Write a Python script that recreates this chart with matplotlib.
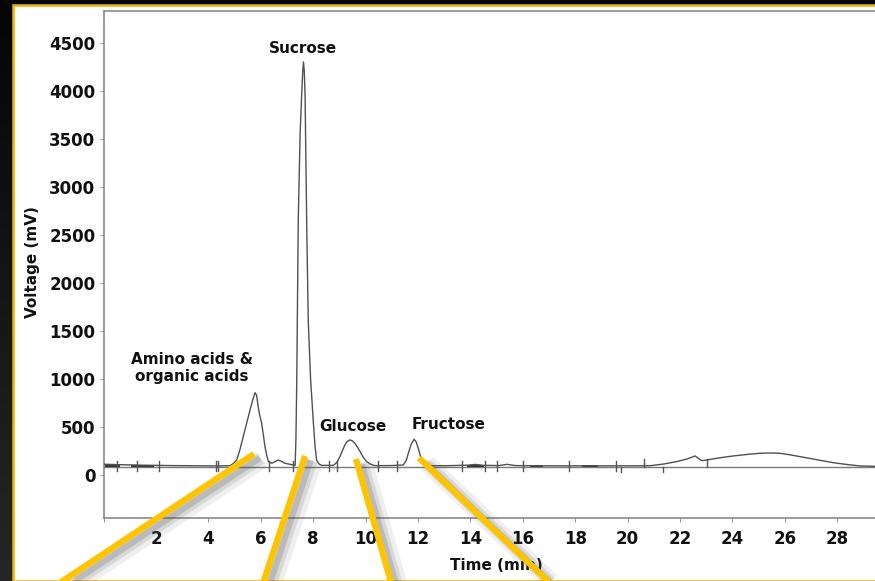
import numpy as np
import matplotlib
matplotlib.use("Agg")
import matplotlib.pyplot as plt
from matplotlib.patches import Rectangle
from matplotlib.colors import LinearSegmentedColormap
import matplotlib.patheffects as pe

# ---------------- data ----------------
time_min = [0.0, 0.5, 1.5, 2.5, 3.5, 4.3, 4.82, 4.95, 5.08, 5.2, 5.33, 5.46, 5.59, 5.70, 5.78,
            5.84, 5.90, 5.96, 6.03, 6.10, 6.16, 6.23,
            6.29, 6.42, 6.55, 6.67, 6.80, 6.92, 7.24, 7.31, 7.34, 7.37, 7.43, 7.50, 7.56, 7.60,
            7.63, 7.66, 7.69, 7.75, 7.81, 7.90, 8.00, 8.07, 8.13, 8.22, 8.32, 8.77, 8.90, 9.02,
            9.11, 9.21, 9.30, 9.40, 9.50, 9.59, 9.69, 9.79, 9.91, 10.04,
            10.2, 10.36, 11.0, 11.44, 11.55, 11.63, 11.74, 11.85, 11.93, 12.01, 12.08, 12.14,
            12.22, 12.33, 13.0, 13.9, 14.2, 14.5,
            15.1, 15.4, 15.7, 16.5, 18.0, 19.5, 20.85, 21.4, 21.87, 22.25, 22.58, 22.83,
            23.02, 23.5, 24.03, 24.6, 25.05, 25.45, 25.81, 26.2, 26.58, 27.2, 27.85, 28.4,
            28.87, 29.5, 30.0]
voltage_mv = [112, 108, 102, 98, 96, 94, 96, 118, 156, 260, 399, 540, 677, 790, 857,
              830, 711, 620, 542, 410, 295, 200,
              139, 122, 140, 156, 140, 122, 104, 100, 365, 920, 2656, 3550, 3958, 4200,
              4302, 4200, 3958, 2656, 1615, 1000, 573, 300, 156, 115, 100, 100, 130, 191,
              250, 313, 350, 365, 355, 330, 290, 243, 185, 139,
              110, 97, 98, 104, 150, 226, 320, 372, 345, 278, 210, 156,
              115, 97, 96, 102, 110, 100,
              98, 111, 98, 96, 95, 95, 96, 115, 139, 165, 198, 149,
              156, 178, 198, 215, 226, 229, 226, 210, 191, 160, 128, 108,
              94, 90, 90]

baseline_level = 86
peak_marks_up_down = [0.51, 1.26, 2.11, 4.29, 4.37, 6.32, 7.22, 8.60, 8.90, 10.48,
                      11.21, 13.69, 14.56, 15.03, 16.0, 17.78, 19.56]
peak_marks_up = [20.64, 23.02]
peak_marks_down = [19.75, 21.36]
integration_segments = [(0.1, 0.6), (1.1, 1.9), (13.9, 14.5), (16.3, 16.75), (18.3, 18.85)]

labels = ["Sucrose", "Amino acids &\norganic acids", "Glucose", "Fructose"]
label_time = [7.61, 3.37, 9.52, 13.15]
label_volt = [4438, 1115, 510, 521]

pointer_start_t = [5.74, 7.69, 9.63, 12.04]
pointer_start_v = [219, 198, 167, 177]
pointer_end_t = [-1.85, 6.05, 11.01, 17.15]
pointer_end_v = [-1156, -1156, -1156, -1156]

x_ticks = list(range(0, 30, 2))
x_ticklabels = [""] + [str(t) for t in range(2, 30, 2)]
y_ticks = list(range(0, 5000, 500))

# ---------------- figure ----------------
W, H = 875, 581
fig = plt.figure(figsize=(W / 100, H / 100), dpi=100)
fig.patch.set_facecolor("#141414")

bg = fig.add_axes([0, 0, 1, 1], zorder=-10)
grad = np.linspace(0, 1, 256).reshape(-1, 1)
cm = LinearSegmentedColormap.from_list("bgc", ["#050505", "#262626"])
bg.imshow(grad, aspect="auto", cmap=cm, extent=[0, 1, 1, 0])
bg.axis("off")

panel = Rectangle((13 / W, 0.5 / H), 1.2, (580.0 - 4.5) / H,
                  transform=fig.transFigure, facecolor="white",
                  edgecolor="#F2B000", linewidth=1.8, zorder=-5)
fig.patches.append(panel)

AXW = 30 * 26.2
AXH = 517.5 - 11
ax = fig.add_axes([103.6 / W, 63.5 / H, AXW / W, AXH / H])
ax.set_facecolor("white")
ax.set_xlim(0, 30)
ax.set_ylim(-443, 4833)

for side in ["left", "bottom", "top"]:
    ax.spines[side].set_color("#808080")
    ax.spines[side].set_linewidth(1.1)
ax.spines["right"].set_visible(False)

ax.set_xticks(x_ticks)
ax.set_xticklabels(x_ticklabels)
ax.set_yticks(y_ticks)
ax.tick_params(axis="both", direction="out", length=3, color="#999999", width=0.8,
               labelsize=12, labelcolor="#111111")
ax.tick_params(axis="x", pad=6)
ax.tick_params(axis="y", pad=3)
for lab in ax.get_xticklabels() + ax.get_yticklabels():
    lab.set_fontweight("bold")

ax.axhline(baseline_level, color="#7a7a7a", lw=1.0, zorder=2)
for a, b in integration_segments:
    ax.plot([a, b], [baseline_level + 8, baseline_level + 8], color="#333333", lw=1.4, zorder=3)

for t in peak_marks_up_down:
    ax.plot([t, t], [baseline_level - 40, baseline_level + 55], color="#555555", lw=1.0, zorder=3)
for t in peak_marks_up:
    ax.plot([t, t], [baseline_level, baseline_level + 85], color="#555555", lw=1.0, zorder=3)
for t in peak_marks_down:
    ax.plot([t, t], [baseline_level - 60, baseline_level], color="#555555", lw=1.0, zorder=3)

ax.plot(time_min, voltage_mv, color="#505050", lw=1.0, zorder=4)

for txt, t, v in zip(labels, label_time, label_volt):
    ax.text(t, v, txt, ha="center", va="center", fontsize=11, fontweight="bold",
            color="#111111", linespacing=1.15, zorder=5)

ax.set_ylabel("Voltage (mV)", fontsize=11, fontweight="bold", color="#111111")
ax.yaxis.set_label_coords(-(103.6 - 40) / AXW, (517.5 - 262) / AXH)
ax.set_xlabel("Time (min)", fontsize=11, fontweight="bold", color="#111111")
ax.xaxis.set_label_coords((496 - 103.6) / AXW, -(558 - 517.5) / AXH)

shadow = [pe.SimpleLineShadow(offset=(6, -4), shadow_color="#666666", alpha=0.10, linewidth=13),
          pe.SimpleLineShadow(offset=(5, -3.5), shadow_color="#555555", alpha=0.15, linewidth=8),
          pe.SimpleLineShadow(offset=(4, -3), shadow_color="#444444", alpha=0.2, linewidth=4.5),
          pe.Normal()]
for t0, v0, t1, v1 in zip(pointer_start_t, pointer_start_v, pointer_end_t, pointer_end_v):
    ax.plot([t0, t1], [v0, v1], color="#FFC400", lw=4.5, solid_capstyle="butt",
            clip_on=False, zorder=10, path_effects=shadow)

fig.savefig("out.png", dpi=100, facecolor=fig.get_facecolor())
